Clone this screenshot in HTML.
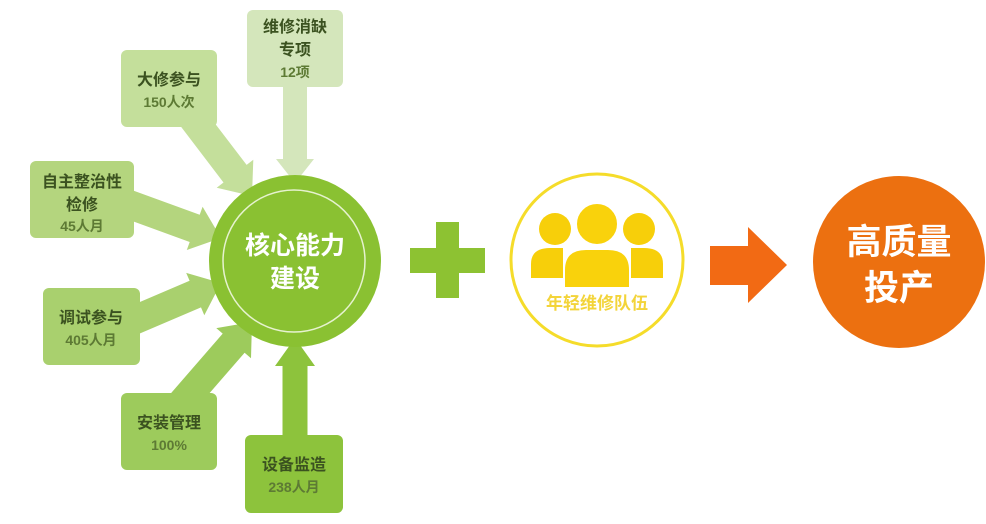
<!DOCTYPE html>
<html><head><meta charset="utf-8"><style>
html,body{margin:0;padding:0;background:#fff;}
svg{display:block;}
text{font-family:"Liberation Sans","Noto Sans CJK SC",sans-serif;}
.t{font-weight:bold;font-size:16px;fill:#3b5220;}
.n{font-weight:bold;font-size:14px;fill:#5d7a34;}
</style></head><body>
<svg id="s" width="986" height="524" viewBox="0 0 986 524" xmlns="http://www.w3.org/2000/svg">
<g id="arrows"></g>
<rect x="247" y="10" width="96" height="77" rx="6" fill="#d4e6bb"/>
<rect x="121" y="50" width="96" height="77" rx="6" fill="#c4df9b"/>
<rect x="30" y="161" width="104" height="77" rx="6" fill="#b4d57e"/>
<rect x="43" y="288" width="97" height="77" rx="6" fill="#a9d06e"/>
<rect x="121" y="393" width="96" height="77" rx="6" fill="#9dcb5c"/>
<rect x="245" y="435" width="98" height="78" rx="6" fill="#8dc33c"/>
<circle cx="295" cy="261" r="86" fill="#8ac132"/>
<circle cx="294" cy="261" r="71" fill="none" stroke="#e6f2cf" stroke-width="1.5"/>
<text x="295" y="254" text-anchor="middle" font-size="25" font-weight="bold" fill="#fff">核心能力</text>
<text x="295" y="287" text-anchor="middle" font-size="25" font-weight="bold" fill="#fff">建设</text>
<text x="295" y="32" text-anchor="middle" class="t">维修消缺</text>
<text x="295" y="55" text-anchor="middle" class="t">专项</text>
<text x="295" y="77" text-anchor="middle" class="n">12项</text>
<text x="169" y="85" text-anchor="middle" class="t">大修参与</text>
<text x="169" y="107" text-anchor="middle" class="n">150人次</text>
<text x="82" y="187" text-anchor="middle" class="t">自主整治性</text>
<text x="82" y="210" text-anchor="middle" class="t">检修</text>
<text x="82" y="231" text-anchor="middle" class="n">45人月</text>
<text x="91" y="323" text-anchor="middle" class="t">调试参与</text>
<text x="91" y="345" text-anchor="middle" class="n">405人月</text>
<text x="169" y="428" text-anchor="middle" class="t">安装管理</text>
<text x="169" y="450" text-anchor="middle" class="n">100%</text>
<text x="294" y="470" text-anchor="middle" class="t">设备监造</text>
<text x="294" y="492" text-anchor="middle" class="n">238人月</text>
<rect x="436" y="222" width="23" height="76" fill="#8dc232"/>
<rect x="410" y="248" width="75" height="25" fill="#8dc232"/>
<circle cx="597" cy="260" r="86" fill="#fff" stroke="#f5dc2a" stroke-width="3"/>
<g fill="#f7cf0a">
<circle cx="555" cy="229" r="16"/>
<circle cx="639" cy="229" r="16"/>
<path d="M531 278 L531 264 Q531 248 550 248 L563 248 L563 278 Z"/>
<path d="M663 278 L663 264 Q663 248 644 248 L631 248 L631 278 Z"/>
</g>
<circle cx="597" cy="224" r="21" fill="#f9d20c" stroke="#fff" stroke-width="2"/>
<path d="M564 288 L564 270 Q564 249 586 249 L608 249 Q630 249 630 270 L630 288 Z" fill="#f9d20c" stroke="#fff" stroke-width="2"/>
<text x="597" y="309" text-anchor="middle" font-size="17" font-weight="bold" fill="#f3d43a">年轻维修队伍</text>
<polygon points="710,246 748,246 748,227 787,265 748,303 748,285 710,285" fill="#f26a14"/>
<circle cx="899" cy="262" r="86" fill="#ec7010"/>
<text x="899" y="254" text-anchor="middle" font-size="35" font-weight="bold" fill="#fff">高质量</text>
<text x="899" y="300" text-anchor="middle" font-size="35" font-weight="bold" fill="#fff">投产</text>
</svg>
<script>
function arr(x1,y1,x2,y2,sw,hw,hl,c){
 var dx=x2-x1,dy=y2-y1,L=Math.hypot(dx,dy),ux=dx/L,uy=dy/L,px=-uy,py=ux;
 var bx=x2-ux*hl,by=y2-uy*hl;
 var p=[[x1+px*sw/2,y1+py*sw/2],[bx+px*sw/2,by+py*sw/2],[bx+px*hw/2,by+py*hw/2],[x2,y2],
 [bx-px*hw/2,by-py*hw/2],[bx-px*sw/2,by-py*sw/2],[x1-px*sw/2,y1-py*sw/2]];
 return '<polygon fill="'+c+'" points="'+p.map(function(q){return q[0].toFixed(1)+','+q[1].toFixed(1)}).join(' ')+'"/>';
}
var g=document.getElementById('arrows');
g.innerHTML=
 arr(295,80,295,183,24,38,24,'#d4e6bb')+
 arr(188,112,252,196,29,46,28,'#c4df9b')+
 arr(125,203,221,238,29,46,28,'#b4d57e')+
 arr(130,322,221,283,29,46,28,'#a9d06e')+
 arr(180,405,252,322,29,46,28,'#9dcb5c')+
 arr(295,440,295,338,25,40,28,'#8dc33c');
</script>
</body></html>
